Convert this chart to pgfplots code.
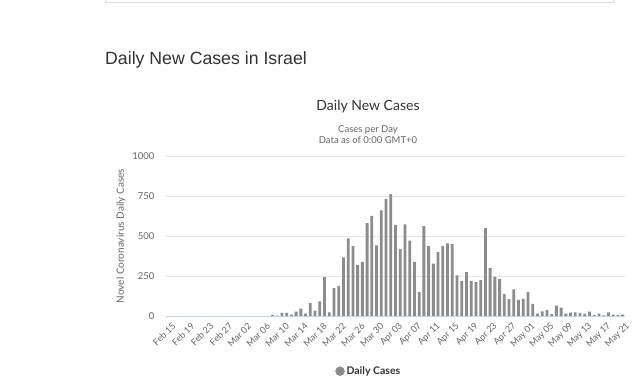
\documentclass[border=0pt]{standalone}
\usepackage{pgfplots}
\pgfplotsset{compat=1.18}
\usepackage{pgfplotstable}
\usepackage{fontspec}
\setmainfont{Lato}
\newfontfamily\titlefont{Liberation Sans}
\definecolor{barcol}{RGB}{140,140,140}
\definecolor{gridcol}{RGB}{230,230,230}
\definecolor{axiscol}{RGB}{204,214,235}
\definecolor{labcol}{RGB}{102,102,102}
\definecolor{txtcol}{RGB}{51,51,51}

\pgfplotstableread{
idx val
0 0
1 0
2 0
3 0
4 0
5 0
6 0
7 0
8 0
9 0
10 0
11 0
12 0
13 0
14 0
15 0
16 0
17 0
18 0
19 0
20 0
21 0
22 5
23 2
24 19
25 19
26 8
27 27
28 46
29 15
30 80
31 34
32 91
33 243
34 23
35 175
36 186
37 367
38 485
39 437
40 319
41 338
42 580
43 626
44 441
45 660
46 731
47 762
48 569
49 418
50 573
51 471
52 338
53 149
54 561
55 437
56 328
57 399
58 437
59 454
60 449
61 254
62 218
63 275
64 218
65 214
66 224
67 549
68 299
69 246
70 231
71 139
72 105
73 166
74 101
75 107
76 149
77 76
78 15
79 29
80 36
81 12
82 65
83 53
84 15
85 21
86 23
87 19
88 15
89 27
90 6
91 15
92 4
93 23
94 8
95 6
96 8
}\cases

\begin{document}
\begin{tikzpicture}[x=1pt,y=1pt]
\fill[white] (0,0) rectangle (634,381);
\draw[gray!25] (105,381) -- (105,378.5) -- (613,378.5) -- (613,381);
\node[anchor=base west, font=\titlefont\fontsize{17.7}{20}\selectfont, text=txtcol, inner sep=0] at (105,316) {Daily New Cases in Israel};
\node[anchor=base, font=\fontsize{14}{16}\selectfont, text=txtcol, inner sep=0] at (368,271) {Daily New Cases};
\node[anchor=base, font=\fontsize{9.5}{11}\selectfont, text=labcol, inner sep=0] at (368,249) {Cases per Day};
\node[anchor=base, font=\fontsize{9.5}{11}\selectfont, text=labcol, inner sep=0] at (368,238) {Data as of 0:00 GMT+0};
\node[rotate=90, font=\fontsize{10}{12}\selectfont, text=labcol, inner sep=0] at (121,145) {Novel Coronavirus Daily Cases};
\begin{axis}[at={(166pt,65pt)}, anchor=south west, scale only axis,
  width=459pt, height=160pt,
  xmin=-0.5, xmax=96.5, ymin=0, ymax=1000,
  ytick={0,250,500,750,1000}, yticklabels={0,250,500,750,1000},
  xtick={0,4,...,96},
  xticklabels={Feb 15,Feb 19,Feb 23,Feb 27,Mar 02,Mar 06,Mar 10,Mar 14,Mar 18,Mar 22,Mar 26,Mar 30,Apr 03,Apr 07,Apr 11,Apr 15,Apr 19,Apr 23,Apr 27,May 01,May 05,May 09,May 13,May 17,May 21},
  ymajorgrids, grid style={draw=gridcol, line width=0.8pt},
  axis x line*=bottom, axis y line*=left,
  y axis line style={draw=none},
  x axis line style={draw=axiscol, line width=1pt, -},
  major tick length=0pt, tick style={draw=none},
  yticklabel style={font=\fontsize{9.5}{11}\selectfont, text=labcol, anchor=east, xshift=-8pt},
  xticklabel style={font=\fontsize{9}{10}\selectfont, text=labcol, rotate=45, anchor=east, inner sep=0pt, yshift=-10pt, xshift=-2pt},
  legend style={at={(0.442,-0.345)}, anchor=center, draw=none, fill=none,
    font=\bfseries\fontsize{10.5}{12}\selectfont, text=txtcol},
  clip=false,
]
\addplot[ybar, bar width=2.8pt, fill=barcol, draw=none, forget plot] table[x=idx,y=val]{\cases};
\addlegendimage{only marks, mark=*, mark size=4.5pt, barcol}
\addlegendentry{Daily Cases}
\end{axis}
\pgfresetboundingbox
\path (0,0) rectangle (634,381);
\end{tikzpicture}
\end{document}
